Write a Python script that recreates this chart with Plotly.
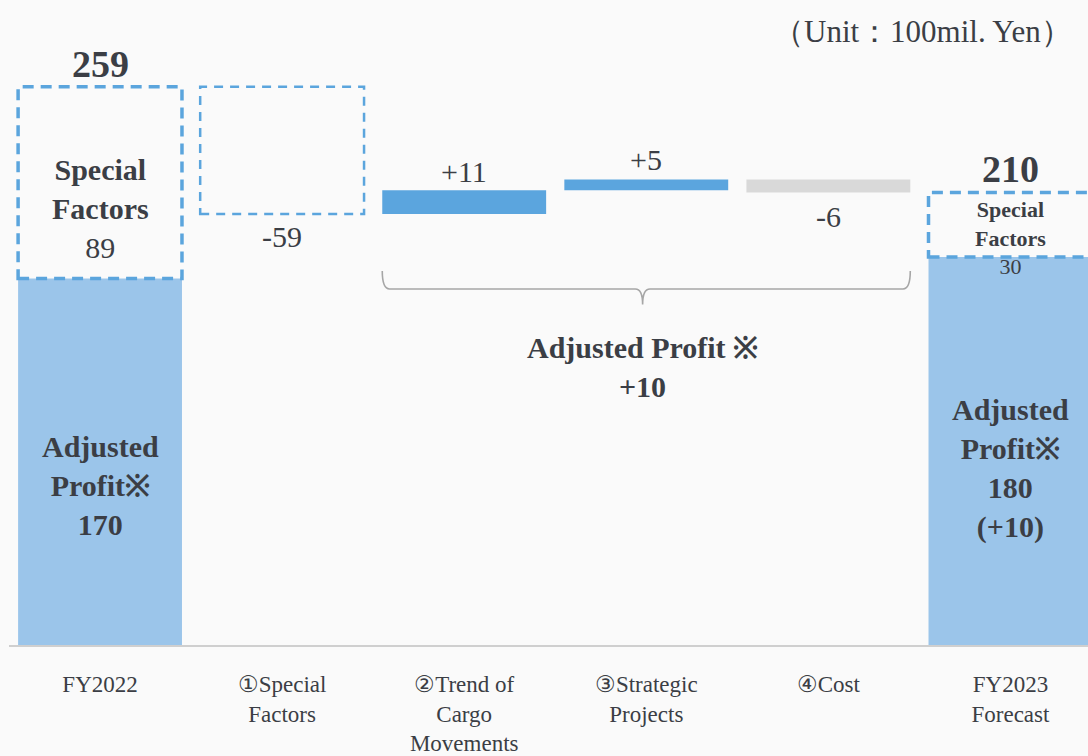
import plotly.graph_objects as go

# ---- data ----
categories = ["FY2022", "①Special<br>Factors", "②Trend of<br>Cargo<br>Movements",
              "③Strategic<br>Projects", "④Cost", "FY2023<br>Forecast"]
fy2022_adjusted = 170
fy2022_special = 89
changes = [-59, 11, 5, -6]          # ① special factors, ② cargo, ③ strategic, ④ cost
fy2023_adjusted = 180
fy2023_special = 30
adjusted_change_label = "+10"

# ---- styles ----
LIGHT = "#9bc5ea"
DARK = "#5ba5de"
GREY = "#d9d9d9"
DASH = "#5ba5dd"
TXT = "#3b3e45"
FONT = "Liberation Serif"
BW = 0.9

fy2022_total = fy2022_adjusted + fy2022_special
fy2023_total = fy2023_adjusted + fy2023_special
xs = list(range(len(categories)))

fig = go.Figure()

# base bars (adjusted profit)
fig.add_trace(go.Bar(x=[xs[0], xs[-1]], y=[fy2022_adjusted, fy2023_adjusted], base=[0, 0],
                     width=BW, marker=dict(color=LIGHT, line=dict(width=0)),
                     hoverinfo="skip", showlegend=False))

# waterfall steps
running = fy2022_total
steps = []
for i, ch in enumerate(changes):
    start, end = running, running + ch
    steps.append((xs[i + 1], min(start, end), abs(ch), ch, start, end))
    running = end

shapes = []
# FY2022 special factors dashed box
shapes.append(dict(type="rect", xref="x", yref="y", x0=xs[0] - BW / 2, x1=xs[0] + BW / 2,
                   y0=fy2022_adjusted, y1=fy2022_total,
                   line=dict(color=DASH, width=3.5, dash="11px,7px"), fillcolor="rgba(0,0,0,0)",
                   layer="above"))
# FY2023 special factors dashed box
shapes.append(dict(type="rect", xref="x", yref="y", x0=xs[-1] - BW / 2, x1=xs[-1] + BW / 2,
                   y0=fy2023_adjusted, y1=fy2023_total,
                   line=dict(color=DASH, width=3.5, dash="11px,7px"), fillcolor="rgba(0,0,0,0)",
                   layer="above"))

pos_x, pos_b, pos_h = [], [], []
neg_x, neg_b, neg_h = [], [], []
for k, (x, b, h, ch, s, e) in enumerate(steps):
    if k == 0:
        shapes.append(dict(type="rect", xref="x", yref="y", x0=x - BW / 2, x1=x + BW / 2,
                           y0=b, y1=b + h,
                           line=dict(color=DASH, width=2.5, dash="9px,7px"),
                           fillcolor="rgba(0,0,0,0)"))
    elif ch > 0:
        pos_x.append(x); pos_b.append(b); pos_h.append(h)
    else:
        neg_x.append(x); neg_b.append(b); neg_h.append(h)

fig.add_trace(go.Bar(x=pos_x, y=pos_h, base=pos_b, width=BW,
                     marker=dict(color=DARK, line=dict(width=0)), hoverinfo="skip", showlegend=False))
fig.add_trace(go.Bar(x=neg_x, y=neg_h, base=neg_b, width=BW,
                     marker=dict(color=GREY, line=dict(width=0)), hoverinfo="skip", showlegend=False))

# bracket under steps ②-④
bx0 = xs[2] - BW / 2
bx1 = xs[4] + BW / 2
bxc = xs[3] - 0.02
yt, ym, yl = 173.5, 165.2, 158.0
r = 0.04
path = (f"M {bx0},{yt} Q {bx0},{ym} {bx0 + r},{ym} L {bxc - r},{ym} "
        f"Q {bxc},{ym} {bxc},{yl} Q {bxc},{ym} {bxc + r},{ym} L {bx1 - r},{ym} "
        f"Q {bx1},{ym} {bx1},{yt}")
shapes.append(dict(type="path", xref="x", yref="y", path=path,
                   line=dict(color="#a6a6a6", width=1.6)))

ann = []
def A(x, y, text, size, yshift=0, xref="x", yref="y", xanchor="center", yanchor="middle", xshift=0):
    ann.append(dict(x=x, y=y, xref=xref, yref=yref, text=text, showarrow=False,
                    font=dict(family=FONT, size=size, color=TXT),
                    xanchor=xanchor, yanchor=yanchor, yshift=yshift, xshift=xshift))

# FY2022
A(xs[0], fy2022_total, f"<b>{fy2022_total}</b>", 38, yshift=23)
A(xs[0], fy2022_total, f"<b>Special<br>Factors</b><br>{fy2022_special}", 30, yshift=-122)
A(xs[0], 0, f"<b>Adjusted<br>Profit※<br>{fy2022_adjusted}</b>", 30, yshift=160)

# steps
def fmt(v):
    return f"+{v}" if v > 0 else f"{v}"
offs = {0: (-23, "bottom"), 1: (19, "top"), 2: (20, "top"), 3: (-24, "bottom")}
for k, (x, b, h, ch, s, e) in enumerate(steps):
    dy, where = offs[k]
    yref_val = b if where == "bottom" else b + h
    A(x, yref_val, fmt(ch), 30, yshift=dy)

# FY2023
A(xs[-1], fy2023_total, f"<b>{fy2023_total}</b>", 38, yshift=23)
A(xs[-1], fy2023_total, f"<b>Special<br>Factors</b><br>{fy2023_special}", 22, yshift=-46)
A(xs[-1], 0, f"<b>Adjusted<br>Profit※<br>{fy2023_adjusted}<br>({adjusted_change_label})</b>", 30,
  yshift=177)

# bracket label
A(xs[3] - 0.02, 0, f"<b>Adjusted Profit ※<br>{adjusted_change_label}</b>", 30, yshift=647 - 369)

# unit
A(1, 1, "（Unit：100mil. Yen）", 31, xref="paper", yref="paper", xanchor="right",
  yanchor="middle", xshift=-14, yshift=-11)

fig.update_layout(
    width=1088, height=756,
    margin=dict(l=9, r=0, t=20, b=109),
    paper_bgcolor="#fafafa", plot_bgcolor="#fafafa",
    barmode="overlay",
    shapes=shapes, annotations=ann,
    xaxis=dict(range=[-0.5, 5.426], tickmode="array", tickvals=xs, ticktext=categories,
               showgrid=False, zeroline=False, showline=True, linecolor="#cfcfcf", linewidth=2,
               ticks="", ticklabelstandoff=17,
               tickfont=dict(family=FONT, size=23, color=TXT)),
    yaxis=dict(range=[0, 290], visible=False, showgrid=False, zeroline=False),
)

fig.write_html("out.html", config={"displayModeBar": False},
               post_script="document.body.style.margin='0px';document.body.style.background='#fafafa';")
